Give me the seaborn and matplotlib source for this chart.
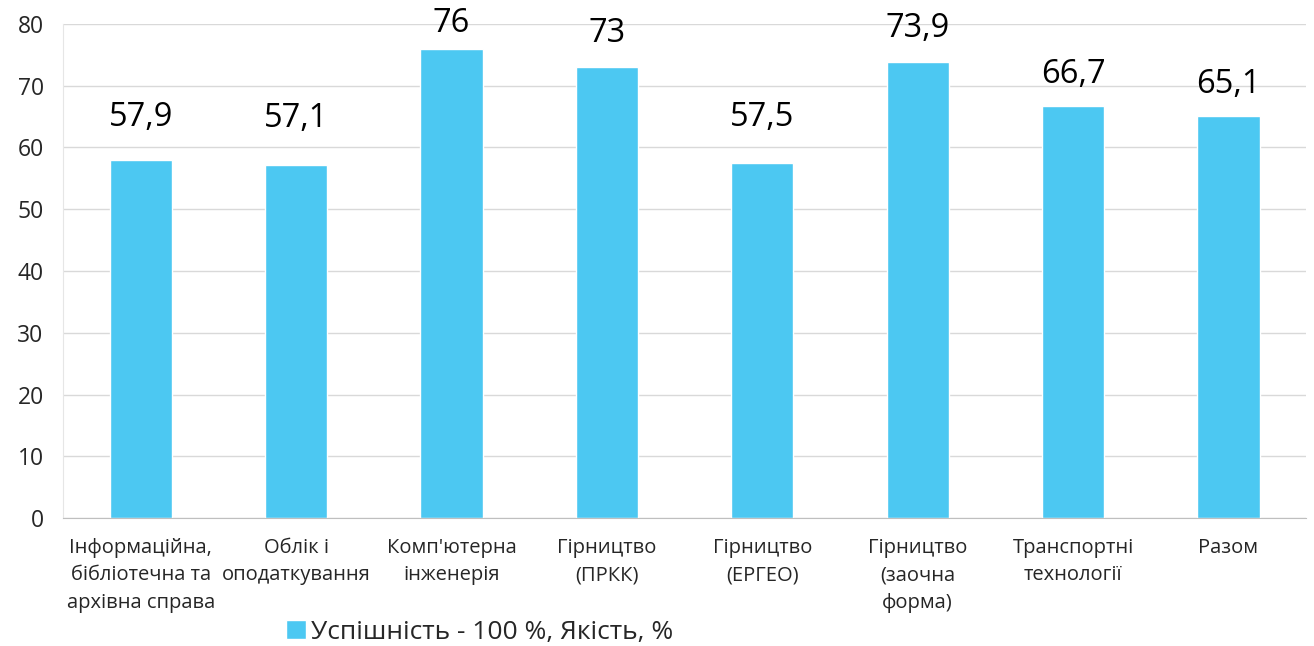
import matplotlib
matplotlib.use('Agg')
import matplotlib.pyplot as plt
import seaborn as sns
import pandas as pd

# Data
categories = [
    "Інформаційна,\nбібліотечна та\nархівна справа",
    "Облік і\nоподаткування",
    "Комп'ютерна\nінженерія",
    "Гірництво\n(ПРКК)",
    "Гірництво\n(ЕРГЕО)",
    "Гірництво\n(заочна\nформа)",
    "Транспортні\nтехнології",
    "Разом",
]
values = [57.9, 57.1, 76, 73, 57.5, 73.9, 66.7, 65.1]
value_labels = ["57,9", "57,1", "76", "73", "57,5", "73,9", "66,7", "65,1"]
series_name = "Успішність - 100 %, Якість, %"

# label offsets above bar tops (points), as placed in the original
label_offsets = [19, 22, 6, 12, 21, 12, 11, 11]

sns.set_style('white')
plt.rcParams['font.family'] = ['Open Sans', 'DejaVu Sans']

df = pd.DataFrame({'cat': categories, 'val': values})
bar_color = '#4CC8F2'

fig = plt.figure(figsize=(13.14, 6.46), dpi=100)
ax = fig.add_axes([0.048, 0.198, 0.946, 0.765])

sns.barplot(data=df, x='cat', y='val', color=bar_color, width=0.4,
            ax=ax, label=series_name, saturation=1)

ax.set_ylim(0, 80)
ax.set_xlim(-0.5, len(categories) - 0.5)
ax.set_yticks(range(0, 81, 10))
ax.yaxis.grid(True, color='#d9d9d9', linewidth=1)
ax.set_axisbelow(True)
ax.set_xlabel('')
ax.set_ylabel('')

for s in ['top', 'right']:
    ax.spines[s].set_visible(False)
ax.spines['left'].set_color('#e6e6e6')
ax.spines['bottom'].set_color('#bfbfbf')

ax.tick_params(axis='y', length=0, labelsize=16.5, pad=14)
ax.tick_params(axis='x', which='major', length=0, labelsize=14.5, pad=14)
ax.set_xticks([i - 0.5 for i in range(len(categories) + 1)], minor=True)
ax.tick_params(axis='x', which='minor', length=6, color='#bfbfbf', width=1)
for lbl in ax.get_xticklabels():
    lbl.set_linespacing(1.5)

for i, (v, t) in enumerate(zip(values, value_labels)):
    ax.annotate(t, (i, v), xytext=(0, label_offsets[i]), textcoords='offset points',
                ha='center', va='bottom', fontsize=23.5, color='black')

ax.legend(loc='center', bbox_to_anchor=(480 / 1314, 14 / 646),
          bbox_transform=fig.transFigure, frameon=False, fontsize=19,
          handlelength=0.75, handleheight=0.75, handletextpad=0.2)

fig.savefig('out.png', dpi=100)
